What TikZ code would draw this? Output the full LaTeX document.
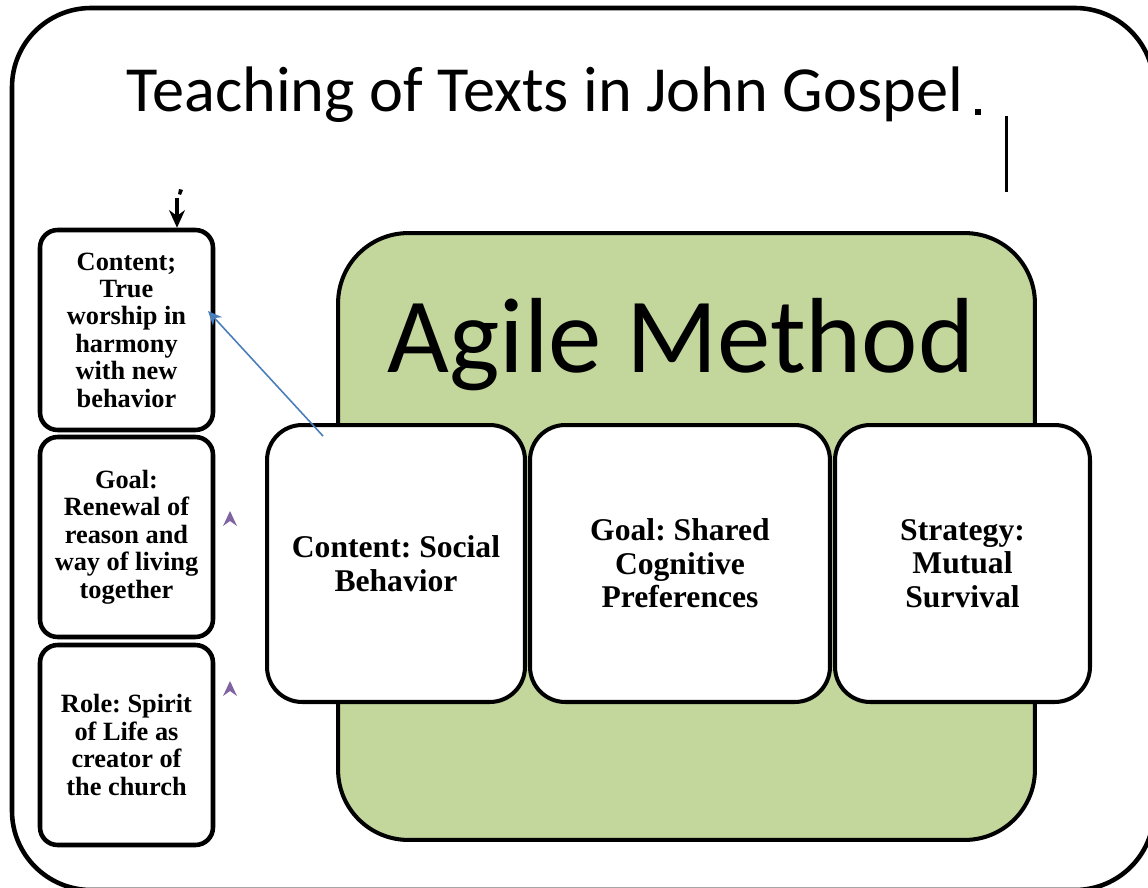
\documentclass[tikz,border=0pt]{standalone}
\usepackage{fontspec}
\setmainfont{Liberation Serif}
\newfontfamily\calibri{Carlito}
\usepackage{tikz}
\usetikzlibrary{positioning, arrows.meta}
\definecolor{agilegreen}{HTML}{C3D69B}
\definecolor{linkblue}{HTML}{4A7EBB}
\definecolor{tipviolet}{HTML}{8064A2}
\frenchspacing

\tikzset{
  sidebox/.style={draw, line width=2.6pt, rounded corners=10pt, fill=white,
    minimum width=3.46cm, minimum height=4cm, align=center,
    font=\fontsize{15}{15.6}\selectfont\bfseries},
  methodbox/.style={draw, line width=2.3pt, rounded corners=20pt, fill=white,
    minimum height=5.54cm, align=center,
    font=\fontsize{18}{19}\selectfont\bfseries},
  tipmark/.style={fill=tipviolet, draw=none}
}

\begin{document}
\begin{tikzpicture}[x=0.02cm, y=-0.02cm]
  \useasboundingbox (0,0) rectangle (1148,888);
  % outer frame, runs off the page on the right
  \draw[line width=2.6pt, rounded corners=45pt] (12,8) rectangle (1154,890);

  \node[font=\calibri\fontsize{36.6}{42}\selectfont, anchor=base] (title) at (545,112)
    {Teaching of Texts in John Gospel};
  \fill (975,109) rectangle (981,115);
  \draw[line width=1.7pt] (1006,116) -- (1006,192);

  % green panel
  \node[draw, line width=2.3pt, fill=agilegreen, rounded corners=40pt,
        minimum width=13.94cm, minimum height=12.14cm] (agile) at (686.5,536.5) {};
  \node[font=\calibri\fontsize{60.8}{66}\selectfont, anchor=base] (agiletitle) at (681,372)
    {Agile Method};

  \node[methodbox, minimum width=5.16cm] (social) at (396,563.5)
    {Content: Social\\Behavior};
  \node[methodbox, minimum width=6cm] (shared) at (680,563.5)
    {Goal: Shared\\Cognitive\\Preferences};
  \node[methodbox, minimum width=5.1cm] (survival) at (962.5,563.5)
    {Strategy:\\Mutual\\Survival};

  % column on the left
  \node[sidebox] (worship) at (126.5,330)
    {Content;\\True\\worship in\\harmony\\with new\\behavior};
  \node[sidebox] (renewal) at (126.5,537)
    {Goal:\\Renewal of\\reason and\\way of living\\together};
  \node[sidebox] (spirit) at (126.5,745)
    {Role: Spirit\\of Life as\\creator of\\the church};

  % arrows
  \coordinate (drop) at (177,198);
  \fill (179,189) -- (183,190) -- (181,195) -- (178,194) -- cycle;
  \draw[line width=2pt, -{Stealth[length=10pt, width=9pt]}] (drop) -- (drop |- worship.north);
  \coordinate (linkfrom) at (323,436);
  \coordinate (linkto) at (208,311);
  \draw[linkblue, line width=0.9pt, -{Stealth[length=8pt, width=7pt]}] (linkfrom) -- (linkto);

  \fill[tipmark] (223,526) -- (230,511) -- (237,526) -- (230,521) -- cycle;
  \fill[tipmark] (223,696) -- (230,681) -- (237,696) -- (230,691) -- cycle;
\end{tikzpicture}
\end{document}
